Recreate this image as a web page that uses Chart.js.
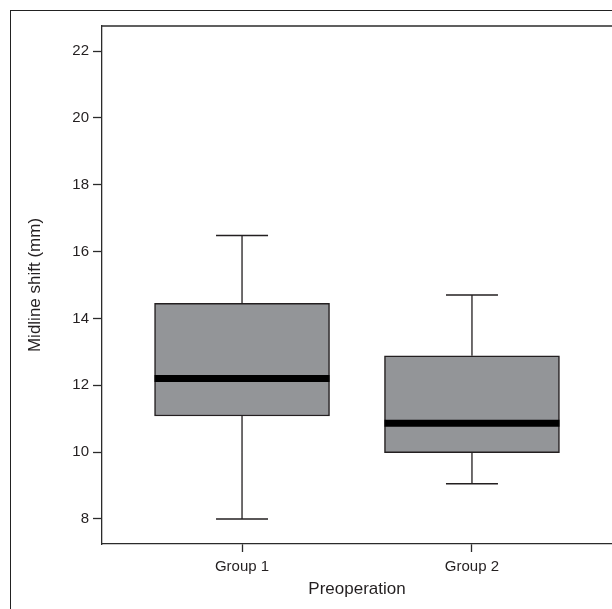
<!DOCTYPE html>
<html>
<head>
<meta charset="utf-8">
<script src="https://cdn.jsdelivr.net/npm/chart.js@4"></script>
<style>
  html, body { margin: 0; padding: 0; background: #fff; overflow: hidden; }
  #wrap { position: relative; width: 612px; height: 609px; }
  #frame { position: absolute; left: 10px; top: 10px; width: 700px; height: 700px;
           border-left: 1.5px solid #222; border-top: 1.5px solid #222; }
  #chart { position: absolute; left: 0; top: 0; }
</style>
</head>
<body>
<div id="wrap">
  <div id="frame"></div>
  <canvas id="chart" width="612" height="609"></canvas>
</div>
<script>
const groups = ["Group 1", "Group 2"];
const groupPos = [1, 2];
const whiskerLow = [8.0, 9.05];
const q1 = [11.08, 9.98];
const median = [12.2, 10.86];
const q3 = [14.45, 12.88];
const whiskerHigh = [16.48, 14.7];
const yTicks = [8, 10, 12, 14, 16, 18, 20, 22];

const textColor = "#231f20";
const lineColor = "#2b2b2b";
const fontFamily = "'Liberation Sans', Arial, sans-serif";

const boxData = groupPos.map((x, i) => ({ x: x, y: [q1[i], q3[i]] }));
const medianData = groupPos.map((x, i) => ({ x: x, y: median[i] }));
const capData = [];
const whiskerData = [];
groupPos.forEach((x, i) => {
  capData.push({ x: x, y: whiskerLow[i] }, { x: x, y: whiskerHigh[i] });
  whiskerData.push(
    { x: x, y: whiskerLow[i] }, { x: x, y: q1[i] }, { x: x, y: null },
    { x: x, y: q3[i] }, { x: x, y: whiskerHigh[i] }, { x: x, y: null }
  );
});

// top border of the plot frame
const topBorder = {
  id: "topBorder",
  afterDraw(chart) {
    const { ctx, chartArea } = chart;
    ctx.save();
    ctx.strokeStyle = lineColor;
    ctx.lineWidth = 1.3;
    ctx.beginPath();
    ctx.moveTo(chartArea.left, chartArea.top);
    ctx.lineTo(chartArea.right + 2, chartArea.top);
    ctx.stroke();
    ctx.restore();
  }
};

new Chart(document.getElementById("chart"), {
  type: "bar",
  data: {
    datasets: [
      {
        type: "bar",
        data: boxData,
        backgroundColor: "#939598",
        borderColor: textColor,
        borderWidth: 1.5,
        borderSkipped: false,
        barThickness: 175,
        order: 3
      },
      {
        type: "line",
        data: whiskerData,
        borderColor: textColor,
        borderWidth: 1.3,
        pointRadius: 0,
        spanGaps: false,
        order: 2
      },
      {
        type: "scatter",
        data: capData,
        pointStyle: "line",
        pointRadius: 26,
        pointHoverRadius: 26,
        borderColor: textColor,
        borderWidth: 1.5,
        order: 1
      },
      {
        type: "scatter",
        data: medianData,
        pointStyle: "line",
        pointRadius: 87.5,
        pointHoverRadius: 87.5,
        borderColor: "#000",
        borderWidth: 7,
        order: 0
      }
    ]
  },
  options: {
    responsive: false,
    animation: false,
    layout: { autoPadding: false, padding: { top: 26, right: 0, left: 0, bottom: 0 } },
    plugins: { legend: { display: false }, tooltip: { enabled: false } },
    scales: {
      x: {
        type: "linear",
        offset: false,
        min: 0.391,
        max: 2.609,
        afterBuildTicks: (axis) => { axis.ticks = groupPos.map((v) => ({ value: v })); },
        afterFit: (axis) => { axis.height = 65; },
        grid: { offset: false, drawOnChartArea: false, tickLength: 8, tickWidth: 1.3, tickColor: lineColor },
        border: { color: lineColor, width: 1.3 },
        ticks: {
          padding: 6,
          color: textColor,
          font: { family: fontFamily, size: 15 },
          callback: (v) => groups[groupPos.indexOf(v)] || ""
        },
        title: {
          display: true,
          text: "Preoperation",
          color: textColor,
          font: { family: fontFamily, size: 17 },
          padding: { top: 0, bottom: 9 }
        }
      },
      y: {
        min: 7.25,
        max: 22.75,
        afterBuildTicks: (axis) => { axis.ticks = yTicks.map((v) => ({ value: v })); },
        afterFit: (axis) => { axis.width = 102; },
        grid: { drawOnChartArea: false, tickLength: 9, tickWidth: 1.3, tickColor: lineColor },
        border: { color: lineColor, width: 1.3 },
        ticks: {
          padding: 4,
          color: textColor,
          font: { family: fontFamily, size: 15 }
        },
        title: {
          display: true,
          text: "Midline shift (mm)",
          color: textColor,
          font: { family: fontFamily, size: 17 },
          padding: { top: 25, bottom: 0 }
        }
      }
    }
  },
  plugins: [topBorder]
});
</script>
</body>
</html>
